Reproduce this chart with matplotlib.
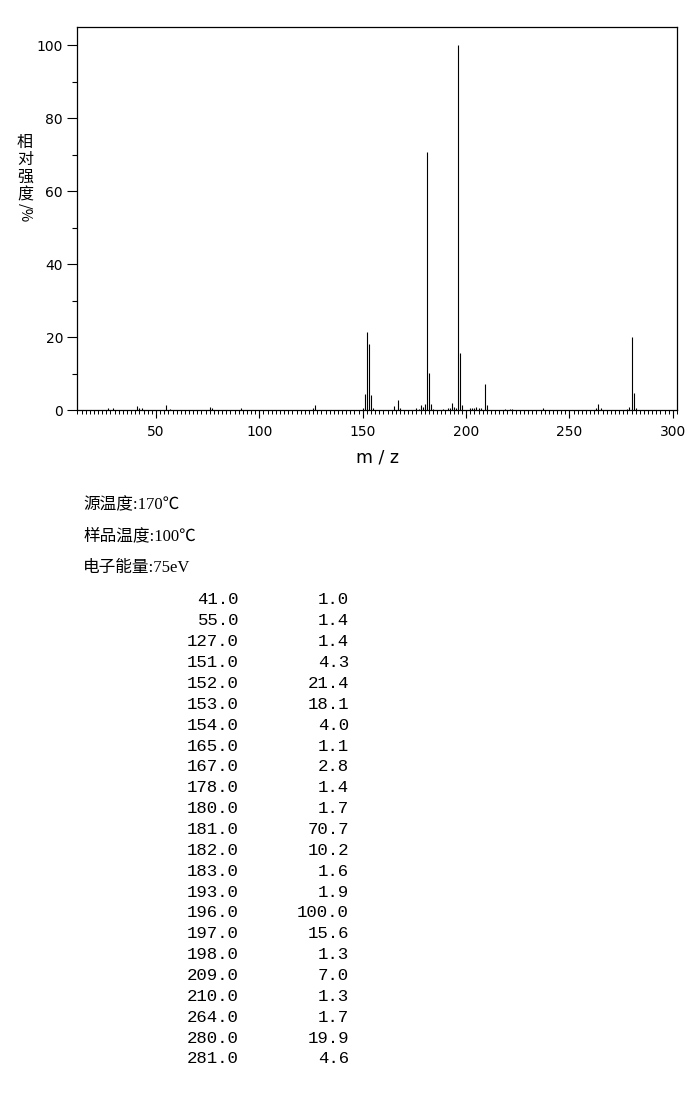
import numpy as np
import matplotlib
matplotlib.use("Agg")
import matplotlib.pyplot as plt
from matplotlib.ticker import MultipleLocator

# pics de la table (m/z, intensite relative %)
mz_table = [41, 55, 127, 151, 152, 153, 154, 165, 167, 178, 180, 181, 182, 183,
            193, 196, 197, 198, 209, 210, 264, 280, 281]
int_table = [1.0, 1.4, 1.4, 4.3, 21.4, 18.1, 4.0, 1.1, 2.8, 1.4, 1.7, 70.7, 10.2, 1.6,
             1.9, 100.0, 15.6, 1.3, 7.0, 1.3, 1.7, 19.9, 4.6]

# petits pics (<1 %)
mz_small = [27, 29, 42, 43, 57, 76, 77, 91, 126, 150, 155, 168, 176, 177, 179, 184,
            189, 191, 192, 194, 195, 202, 203, 204, 205, 206, 207, 219, 221, 222,
            237, 263, 265, 278, 279, 282]
int_small = [0.5, 0.6, 0.5, 0.6, 0.4, 0.7, 0.5, 0.5, 0.6, 0.5, 0.6, 0.6, 0.5, 0.4, 0.7, 0.4,
             0.4, 0.5, 0.6, 0.7, 0.6, 0.5, 0.5, 0.6, 0.7, 0.5, 0.5, 0.3, 0.4, 0.4,
             0.5, 0.5, 0.6, 0.4, 0.7, 0.5]

info_lines = ["源温度:170℃", "样品温度:100℃", "电子能量:75eV"]

W, H = 687, 1106
fig = plt.figure(figsize=(W / 100, H / 100), dpi=100)

def fx(px):
    return px / W

def fy(py):
    return 1 - py / H

ax = fig.add_axes([fx(77), fy(410), fx(677) - fx(77), fy(27) - fy(410)])
ax.vlines(mz_table + mz_small, 0, int_table + int_small, color="black", lw=0.8)
ax.set_xlim(11.8, 302)
ax.set_ylim(0, 105)

for s in ax.spines.values():
    s.set_linewidth(0.9)

ax.xaxis.set_major_locator(MultipleLocator(50))
ax.xaxis.set_minor_locator(MultipleLocator(2))
ax.yaxis.set_major_locator(MultipleLocator(20))
ax.yaxis.set_minor_locator(MultipleLocator(10))
ax.tick_params(axis="x", which="major", length=6, width=0.8, pad=5, labelsize=10)
ax.tick_params(axis="x", which="minor", length=3, width=0.7)
ax.tick_params(axis="y", which="major", length=7, width=0.8, pad=3, labelsize=10)
ax.tick_params(axis="y", which="minor", length=3.6, width=0.8)

fig.text(fx(377), fy(458), "m / z", ha="center", va="center", fontsize=12.5)

# label vertical en caracteres empiles
cjk = ["Noto Sans CJK SC", "DejaVu Sans"]
for i, ch in enumerate("相对强度"):
    fig.text(fx(25), fy(142 + 17.5 * i), ch, ha="center", va="center",
             fontsize=11.5, family=cjk)
fig.text(fx(25), fy(213), "/%", ha="center", va="center", rotation=270,
         fontsize=10.5, family=cjk)

for i, line in enumerate(info_lines):
    fig.text(fx(83), fy(505 + 31.5 * i), line, ha="left", va="center",
             fontsize=12, family=["Liberation Serif", "Noto Sans CJK SC"])

for i, (m, v) in enumerate(zip(mz_table, int_table)):
    y = fy(600 + 20.86 * i)
    fig.text(fx(239), y, f"{m:.1f}", ha="right", va="center",
             fontsize=12.5, family="Liberation Mono")
    fig.text(fx(349), y, f"{v:.1f}", ha="right", va="center",
             fontsize=12.5, family="Liberation Mono")

fig.savefig("out.png", dpi=100)
